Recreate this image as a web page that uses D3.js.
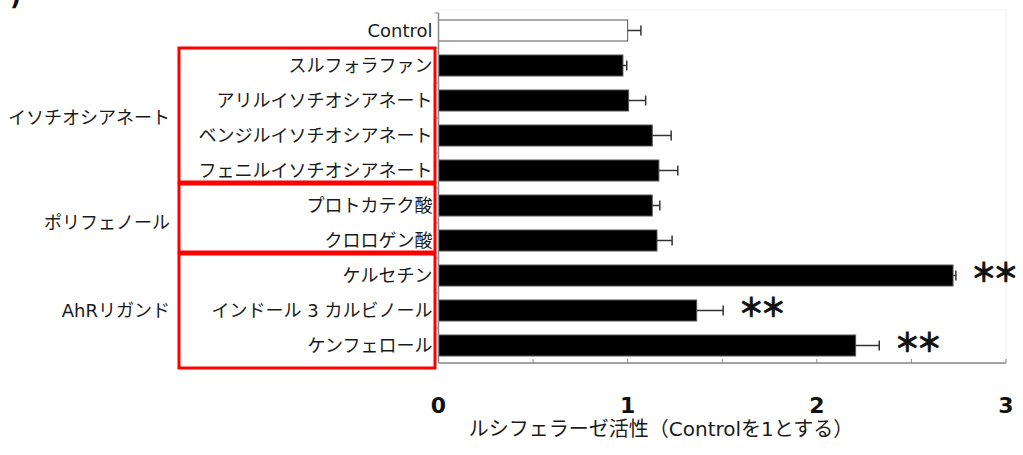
<!DOCTYPE html>
<html>
<head>
<meta charset="utf-8">
<script src="https://cdn.jsdelivr.net/npm/d3@7"></script>
<style>
  body { margin: 0; background: #fff; }
  svg { display: block; }
  text { font-family: "DejaVu Sans", "Noto Sans CJK JP", sans-serif; }
</style>
</head>
<body>
<div id="chart"></div>
<script>
// カテゴリ（上から順）
const categories = [
    'Control',
    'スルフォラファン',
    'アリルイソチオシアネート',
    'ベンジルイソチオシアネート',
    'フェニルイソチオシアネート',
    'プロトカテク酸',
    'クロロゲン酸',
    'ケルセチン',
    'インドール 3 カルビノール',
    'ケンフェロール'
];

// ルシフェラーゼ活性（Control = 1）
const values = [1.00, 0.975, 1.005, 1.13, 1.165, 1.13, 1.155, 2.72, 1.365, 2.205];

// 誤差（SD）
const errors = [0.07, 0.02, 0.09, 0.10, 0.10, 0.04, 0.08, 0.015, 0.14, 0.125];

// 有意差マーク
const marks = ['', '', '', '', '', '', '', '＊＊', '＊＊', '＊＊'];

// グループ（カテゴリの範囲）
const groupNames = ['イソチオシアネート', 'ポリフェノール', 'AhRリガンド'];
const groupFirst = ['スルフォラファン', 'プロトカテク酸', 'ケルセチン'];
const groupLast = ['フェニルイソチオシアネート', 'クロロゲン酸', 'ケンフェロール'];

const xTicks = [0, 1, 2, 3];
const xMinorTicks = [0, 0.5, 1, 1.5, 2, 2.5, 3];
const xTitle = 'ルシフェラーゼ活性（Controlを1とする）';

const width = 1023;
const height = 455;
const margin = { top: 13, right: 17, bottom: 92, left: 438.5 };

const svg = d3.select('#chart')
    .append('svg')
    .attr('width', width)
    .attr('height', height);

const x = d3.scaleLinear()
    .domain([0, 3])
    .range([margin.left, width - margin.right]);

const y = d3.scaleBand()
    .domain(categories)
    .range([margin.top, height - margin.bottom])
    .paddingInner(0.4)
    .paddingOuter(0.2);

const step = y.step();
const bandTop = c => y(c) - (step - y.bandwidth()) / 2;

// 切れたタイトルの一部
svg.append('text')
    .attr('x', 10)
    .attr('y', 5)
    .attr('font-size', 24)
    .attr('font-weight', 'bold')
    .attr('fill', '#111')
    .text(')');

// プロット領域の薄い枠
svg.append('rect')
    .attr('x', x(0))
    .attr('y', margin.top - 3)
    .attr('width', x(3) - x(0))
    .attr('height', height - margin.bottom - margin.top + 3)
    .attr('fill', 'none')
    .attr('stroke', '#f0f0f0')
    .attr('stroke-width', 1);

// バー
svg.selectAll('.bar')
    .data(categories)
    .enter()
    .append('rect')
    .attr('class', 'bar')
    .attr('x', x(0))
    .attr('y', d => y(d))
    .attr('width', (d, i) => x(values[i]) - x(0))
    .attr('height', y.bandwidth())
    .attr('fill', (d, i) => i === 0 ? '#fff' : '#000')
    .attr('stroke', '#555')
    .attr('stroke-width', 1);

// エラーバー
const err = svg.selectAll('.err')
    .data(categories)
    .enter()
    .append('g')
    .attr('class', 'err')
    .attr('stroke', '#333')
    .attr('stroke-width', 1.5);

err.append('line')
    .attr('x1', (d, i) => x(values[i]))
    .attr('x2', (d, i) => x(values[i] + errors[i]))
    .attr('y1', d => y(d) + y.bandwidth() / 2)
    .attr('y2', d => y(d) + y.bandwidth() / 2);

err.append('line')
    .attr('x1', (d, i) => x(values[i] + errors[i]))
    .attr('x2', (d, i) => x(values[i] + errors[i]))
    .attr('y1', d => y(d) + y.bandwidth() / 2 - 5)
    .attr('y2', d => y(d) + y.bandwidth() / 2 + 5);

// 有意差
svg.selectAll('.mark')
    .data(categories)
    .enter()
    .append('text')
    .attr('class', 'mark')
    .attr('x', (d, i) => x(values[i] + errors[i]) + 15)
    .attr('y', d => y(d) + y.bandwidth() / 2 - 3)
    .attr('dy', '0.35em')
    .attr('font-family', '"Noto Sans CJK JP"')
    .attr('font-size', 26)
    .attr('font-weight', 'bold')
    .attr('letter-spacing', -4)
    .attr('fill', '#111')
    .attr('stroke', '#111')
    .attr('stroke-width', 0.7)
    .text((d, i) => marks[i]);

// Y軸
const yAxisG = svg.append('g');
yAxisG.append('line')
    .attr('x1', x(0)).attr('x2', x(0))
    .attr('y1', margin.top).attr('y2', height - margin.bottom)
    .attr('stroke', '#888')
    .attr('stroke-width', 1.5);

yAxisG.selectAll('.ytick')
    .data(categories)
    .enter()
    .append('line')
    .attr('x1', x(0) - 4).attr('x2', x(0))
    .attr('y1', d => bandTop(d))
    .attr('y2', d => bandTop(d))
    .attr('stroke', '#888')
    .attr('stroke-width', 1);

yAxisG.selectAll('.ylabel')
    .data(categories)
    .enter()
    .append('text')
    .attr('x', x(0) - 6)
    .attr('y', d => y(d) + y.bandwidth() / 2)
    .attr('dy', '0.35em')
    .attr('text-anchor', 'end')
    .attr('font-size', 18)
    .attr('fill', '#1a1a1a')
    .text(d => d);

// X軸
const xAxisG = svg.append('g');
xAxisG.append('line')
    .attr('x1', x(0)).attr('x2', x(3))
    .attr('y1', height - margin.bottom).attr('y2', height - margin.bottom)
    .attr('stroke', '#888')
    .attr('stroke-width', 1.5);

xAxisG.selectAll('.xtick')
    .data(xMinorTicks)
    .enter()
    .append('line')
    .attr('x1', d => x(d)).attr('x2', d => x(d))
    .attr('y1', height - margin.bottom)
    .attr('y2', height - margin.bottom - 4)
    .attr('stroke', '#888')
    .attr('stroke-width', 1);

xAxisG.selectAll('.xlabel')
    .data(xTicks)
    .enter()
    .append('text')
    .attr('x', d => x(d))
    .attr('y', 413)
    .attr('text-anchor', 'middle')
    .attr('font-size', 22)
    .attr('font-weight', 'bold')
    .attr('fill', '#111')
    .text(d => d);

svg.append('text')
    .attr('x', 661)
    .attr('y', 436)
    .attr('text-anchor', 'middle')
    .attr('font-size', 20)
    .attr('fill', '#1a1a1a')
    .text(xTitle);

// グループ枠とラベル
groupNames.forEach((name, i) => {
    const top = bandTop(groupFirst[i]);
    const bottom = bandTop(groupLast[i]) + step;
    const last = i === groupNames.length - 1;
    const boxTop = i === 0 ? top : top - 4;
    const boxBottom = last ? bottom + 5 : bottom - 6;

    svg.append('rect')
        .attr('x', 179)
        .attr('y', boxTop)
        .attr('width', 435 - 179)
        .attr('height', boxBottom - boxTop)
        .attr('fill', 'none')
        .attr('stroke', '#f00')
        .attr('stroke-width', 3);

    svg.append('text')
        .attr('x', 170)
        .attr('y', (top + bottom) / 2)
        .attr('dy', '0.35em')
        .attr('text-anchor', 'end')
        .attr('font-size', 18)
        .attr('fill', '#1a1a1a')
        .text(name);
});
</script>
</body>
</html>
